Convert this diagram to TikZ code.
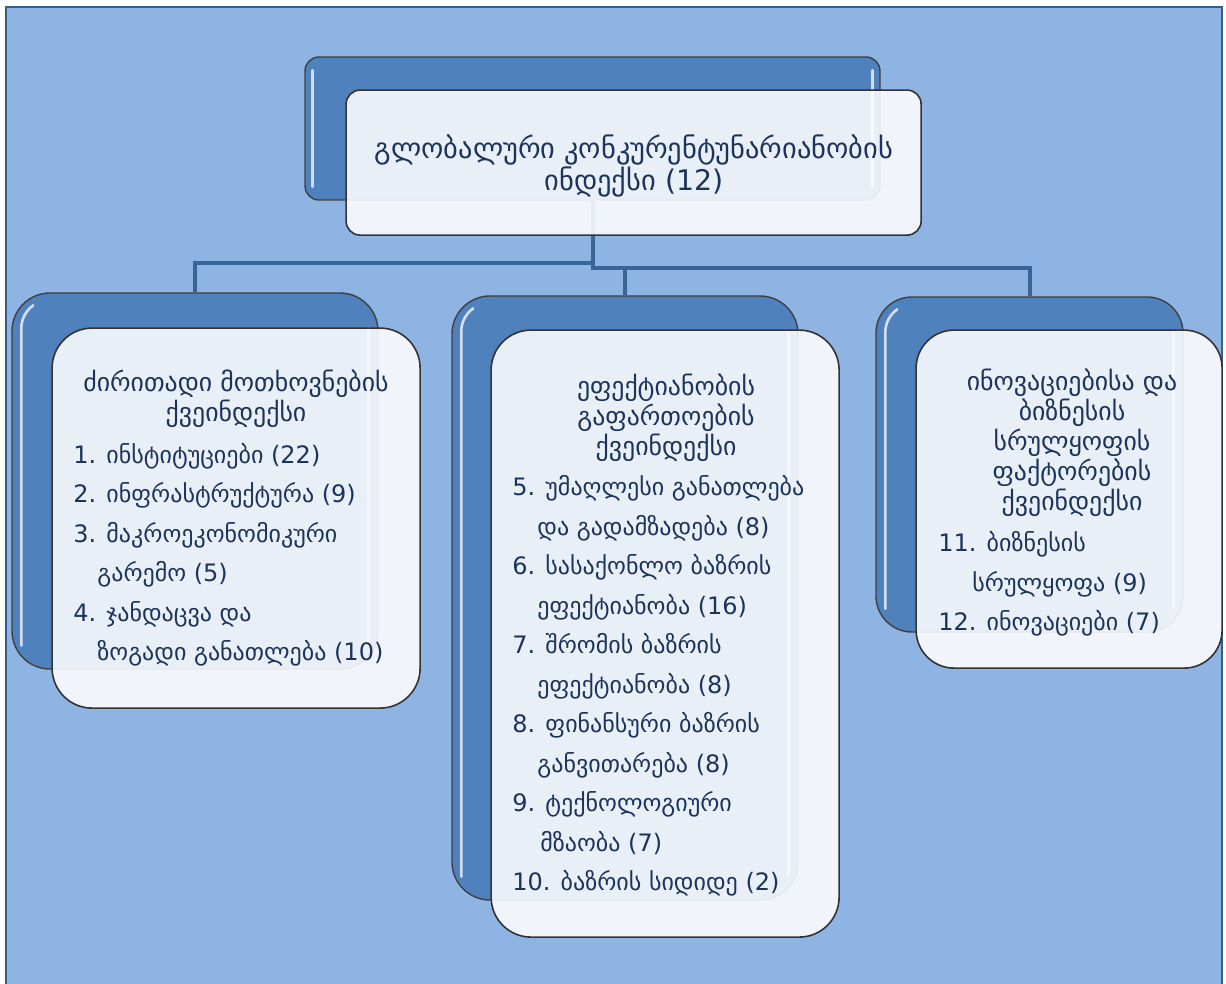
\documentclass[tikz,border=0pt]{standalone}
\usepackage{fontspec}
\setmainfont{DejaVu Sans}
\usetikzlibrary{positioning}
\definecolor{skyblue}{RGB}{142,180,227}
\definecolor{framedark}{RGB}{56,93,138}
\definecolor{boxblue}{RGB}{79,129,189}
\definecolor{linkblue}{RGB}{58,99,150}
\definecolor{inkblue}{RGB}{28,52,92}
\tikzset{node distance=2cm,        % Not really used, boxes are shifted by hand
    backbox/.style={               % Dark blue box behind each card
        rectangle,
        draw=black!75,
        fill=boxblue,
        line width=0.7pt,
        inner sep=0pt},
    frontbox/.style={              % Light, slightly see-through card
        rectangle,
        draw=black!80,
        fill=white,
        fill opacity=0.88,
        line width=0.8pt,
        inner sep=0pt},
    shine/.style={                 % Light stripe inside the dark boxes
        draw=white!75!boxblue,
        line width=1.3pt,
        line cap=round},
    link/.style={                  % Tree connectors
        draw=linkblue,
        line width=2pt},
    title/.style={
        text=inkblue,
        align=center,
        inner sep=0pt,
        font=\fontsize{12.9}{15}\selectfont},
    itemlist/.style={
        text=inkblue,
        align=left,
        inner sep=0pt,
        font=\fontsize{12}{19.75}\selectfont}}

\begin{document}
\begin{tikzpicture}[x=0.5pt,y=-0.5pt]
        \useasboundingbox (0,0) rectangle (1226,984);
        \fill[skyblue] (6,7) rectangle (1222,984);
        \draw[framedark, line width=1.2pt] (6,984) -- (6,7) -- (1222,7) -- (1222,984);

        % back boxes
        \node[backbox, rounded corners=7pt, minimum width=287.5pt, minimum height=71.5pt] (topback) at (592.5,128.5) {};
        \node[backbox, rounded corners=19pt, minimum width=183pt, minimum height=188pt] (leftback) at (195,481) {};
        \node[backbox, rounded corners=19pt, minimum width=173pt, minimum height=302pt] (midback) at (625,598) {};
        \node[backbox, rounded corners=18pt, minimum width=153.5pt, minimum height=167.5pt] (rightback) at (1029.5,464.5) {};

        \draw[link] (topback.south) -- ++(0,62) -| (leftback.north);
        \draw[link] (topback.south) -- ++(0,67) -| (midback.north);
        \draw[link] (topback.south) -- ++(0,67) -| (rightback.north);

        \draw[shine] ([shift={(4pt,-7pt)}]topback.north west) -- ([shift={(4pt,7pt)}]topback.south west);
        \draw[shine] ([shift={(-4pt,-7pt)}]topback.north east) -- ([shift={(-4pt,7pt)}]topback.south east);
        \foreach \b in {leftback,midback,rightback}{
            \draw[shine] ([shift={(5pt,12pt)}]\b.south west) -- ([shift={(5pt,-18pt)}]\b.north west)
                arc[start angle=180, end angle=125, radius=14pt];
            \draw[shine, opacity=0.7] ([shift={(-5pt,-18pt)}]\b.north east) -- ([shift={(-5pt,12pt)}]\b.south east);
        }

        % front cards
        \node[frontbox, rounded corners=7pt, minimum width=287.5pt, minimum height=72.5pt,
            below right=16.5pt and 20.5pt of topback.north west] (topfront) {};
        \node[frontbox, rounded corners=20pt, minimum width=184pt, minimum height=190pt,
            below right=17.5pt and 20pt of leftback.north west] (leftfront) {};
        \node[frontbox, rounded corners=20pt, minimum width=174pt, minimum height=303.5pt,
            below right=17pt and 19.5pt of midback.north west] (midfront) {};
        \node[frontbox, rounded corners=19pt, minimum width=153pt, minimum height=169pt,
            below right=16.5pt and 20pt of rightback.north west] (rightfront) {};

        % texts
        \node[title, font=\fontsize{14.2}{16}\selectfont] (toptitle) at (634,166) {გლობალური კონკურენტუნარიანობის\\ინდექსი (12)};
        \node[title] (lefttitle) at (236,399) {ძირითადი მოთხოვნების\\ქვეინდექსი};
        \node[title] (midtitle) at (666,418) {ეფექტიანობის\\გაფართოების\\ქვეინდექსი};
        \node[title] (righttitle) at (1072,442.5) {ინოვაციებისა და\\ბიზნესის\\სრულყოფის\\ფაქტორების\\ქვეინდექსი};

        \node[itemlist, anchor=west] (leftitems) at (73,555) {1. ინსტიტუციები (22)\\
            2. ინფრასტრუქტურა (9)\\
            3. მაკროეკონომიკური\\
            \hspace*{12pt}გარემო (5)\\
            4. ჯანდაცვა და\\
            \hspace*{12pt}ზოგადი განათლება (10)};
        \node[itemlist, anchor=west] (miditems) at (512,686) {5. უმაღლესი განათლება\\
            \hspace*{12.5pt}და გადამზადება (8)\\
            6. სასაქონლო ბაზრის\\
            \hspace*{12.5pt}ეფექტიანობა (16)\\
            7. შრომის ბაზრის\\
            \hspace*{12.5pt}ეფექტიანობა (8)\\
            8. ფინანსური ბაზრის\\
            \hspace*{12.5pt}განვითარება (8)\\
            9. ტექნოლოგიური\\
            \hspace*{14pt}მზაობა (7)\\
            10. ბაზრის სიდიდე (2)};
        \node[itemlist, anchor=west] (rightitems) at (938,584) {11. ბიზნესის\\
            \hspace*{17pt}სრულყოფა (9)\\
            12. ინოვაციები (7)};
    \end{tikzpicture}
\end{document}
